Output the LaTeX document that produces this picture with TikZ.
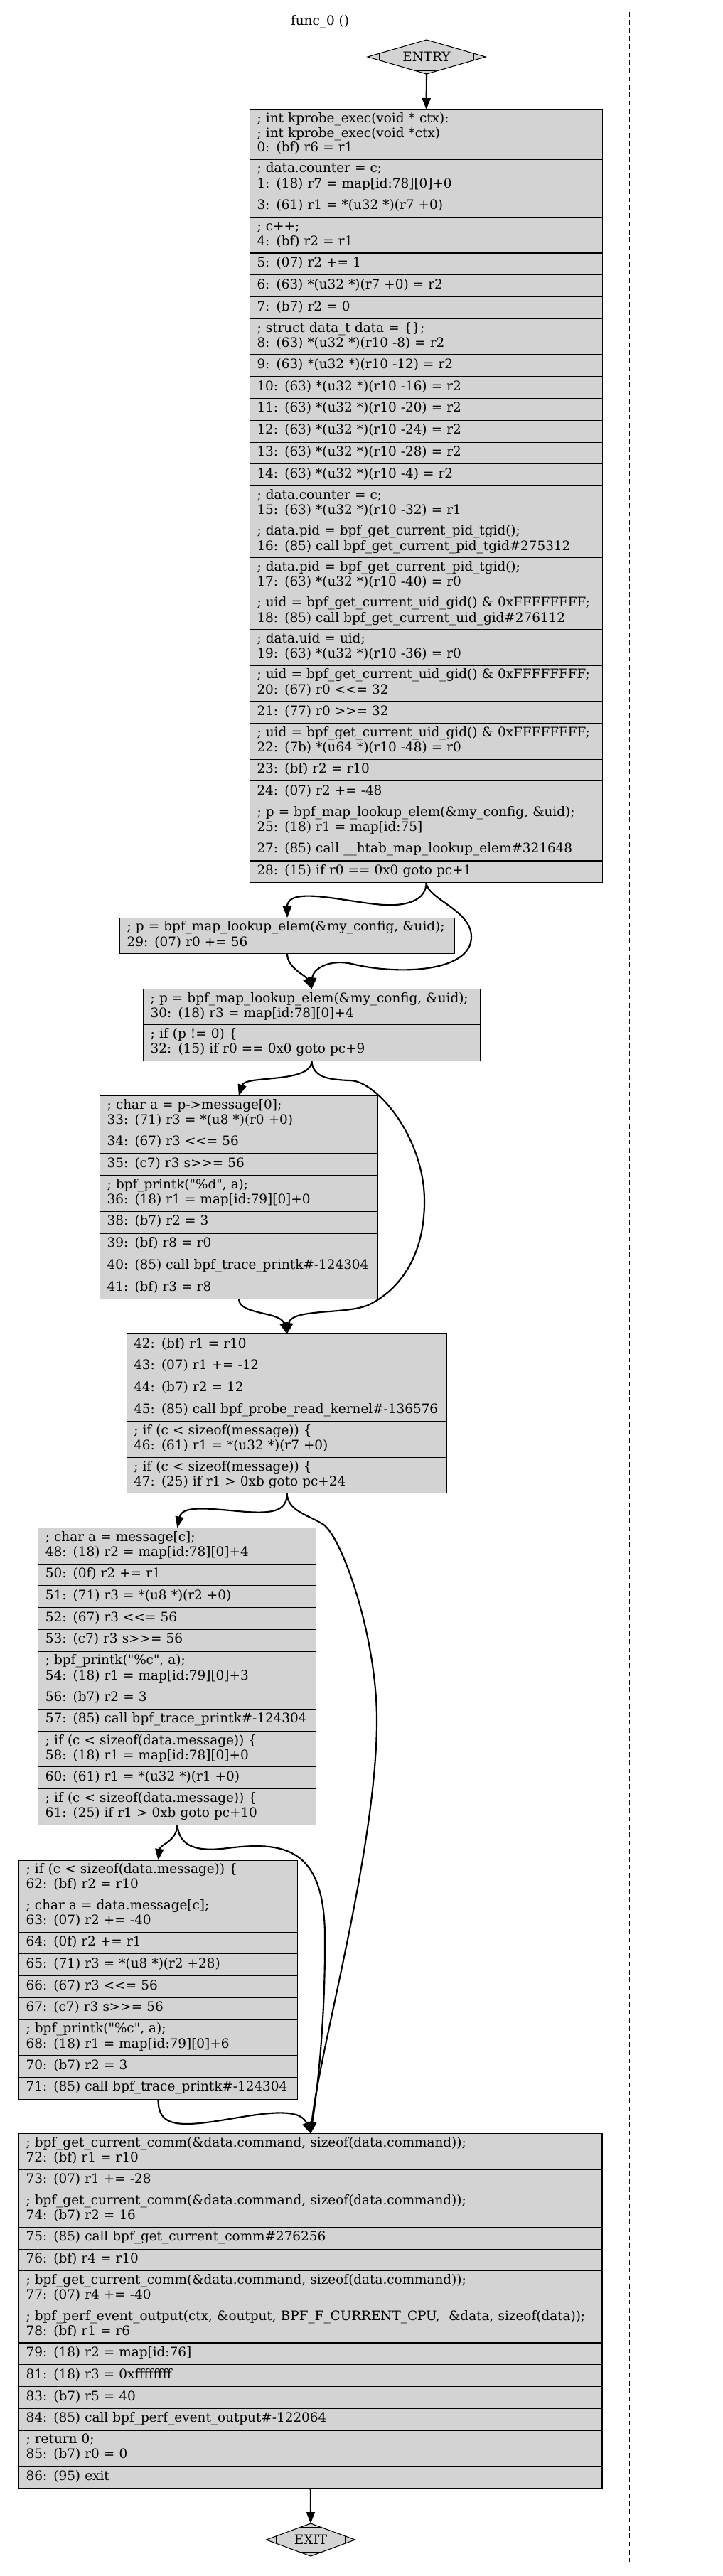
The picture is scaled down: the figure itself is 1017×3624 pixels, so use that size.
\documentclass[tikz,border=0pt]{standalone}
\usepackage{fontspec}
\usepackage{tikz}
\usetikzlibrary{arrows.meta}
\usetikzlibrary{calc}
\usetikzlibrary{positioning}
\usetikzlibrary{shapes.geometric}
\newfontfamily\cfgfam{DejaVu Serif}
\newcommand{\cfgfont}{\cfgfam\fontsize{13.8}{14.775}\selectfont}
\tikzset{fld/.style = {draw, fill=mgray, line width=0.8pt, outer sep=0, inner xsep=7.5pt, inner ysep=0,
                       align=left, font=\cfgfont, minimum height=23.1pt,
                       execute at begin node=\strut, execute at end node=\strut}}
\tikzset{dbl/.style = {minimum height=37.88pt}}
\tikzset{trpl/.style = {minimum height=52.65pt}}
\tikzset{mdia/.style = {diamond, draw, fill=mgray, line width=0.8pt, inner sep=0, outer sep=0, font=\cfgfont}}
\tikzset{flow/.style = {line width=1.6pt, -{Triangle[length=12pt, width=9pt]}}}
\tikzset{cut/.style = {line width=0.8pt}}
\definecolor{mgray}{RGB}{211,211,211}

\begin{document}
\begin{tikzpicture}[x=0.75pt, y=-0.75pt,
    w0/.style = {fld, text width=357.1pt},
    w1/.style = {fld, text width=338.1pt},
    w2/.style = {fld, text width=340.05pt},
    w3/.style = {fld, text width=277.8pt},
    w4/.style = {fld, text width=323pt},
    w5/.style = {fld, text width=278.3pt},
    w6/.style = {fld, text width=278.8pt},
    w7/.style = {fld, text width=600.3pt}]
  \path [use as bounding box, fill=white] (0,0) rectangle (1017,3624);
  \draw [line width=0.75pt, dash pattern=on 5pt off 3.5pt] (15.6,15) rectangle (885,3608);
  \node [font=\cfgfont] (title) at (450,31) {func\_0 ()};

  \node [mdia, aspect=3.46, minimum width=124.5pt, minimum height=36pt] (entry) at (600,80) {ENTRY};
  \node [mdia, aspect=2.72, minimum width=93.75pt, minimum height=34.5pt] (exit) at (437,3573) {EXIT};
  \foreach \d/\f in {entry/0.2, exit/0.23} {
    \draw [cut] ($(\d.north)!\f!(\d.west)$) -- ($(\d.north)!\f!(\d.east)$);
    \draw [cut] ($(\d.south)!\f!(\d.west)$) -- ($(\d.south)!\f!(\d.east)$);
    \draw [cut] ($(\d.west)!\f!(\d.north)$) -- ($(\d.west)!\f!(\d.south)$);
    \draw [cut] ($(\d.east)!\f!(\d.north)$) -- ($(\d.east)!\f!(\d.south)$);
  }

  \node [w0, trpl, anchor=north] (i0) at (599.6,154) {; int kprobe\_exec(void * ctx):\\ ; int kprobe\_exec(void *ctx)\\ 0: (bf) r6 = r1};
  \node [w0, dbl, below=0pt of i0] (i1) {; data.counter = c;\\ 1: (18) r7 = map[id:78][0]+0};
  \node [w0, below=0pt of i1] (i3) {3: (61) r1 = *(u32 *)(r7 +0)};
  \node [w0, dbl, below=0pt of i3] (i4) {; c++;\\ 4: (bf) r2 = r1};
  \node [w0, below=0pt of i4] (i5) {5: (07) r2 += 1};
  \node [w0, below=0pt of i5] (i6) {6: (63) *(u32 *)(r7 +0) = r2};
  \node [w0, below=0pt of i6] (i7) {7: (b7) r2 = 0};
  \node [w0, dbl, below=0pt of i7] (i8) {; struct data\_t data = \{\};\\ 8: (63) *(u32 *)(r10 -8) = r2};
  \node [w0, below=0pt of i8] (i9) {9: (63) *(u32 *)(r10 -12) = r2};
  \node [w0, below=0pt of i9] (i10) {10: (63) *(u32 *)(r10 -16) = r2};
  \node [w0, below=0pt of i10] (i11) {11: (63) *(u32 *)(r10 -20) = r2};
  \node [w0, below=0pt of i11] (i12) {12: (63) *(u32 *)(r10 -24) = r2};
  \node [w0, below=0pt of i12] (i13) {13: (63) *(u32 *)(r10 -28) = r2};
  \node [w0, below=0pt of i13] (i14) {14: (63) *(u32 *)(r10 -4) = r2};
  \node [w0, dbl, below=0pt of i14] (i15) {; data.counter = c;\\ 15: (63) *(u32 *)(r10 -32) = r1};
  \node [w0, dbl, below=0pt of i15] (i16) {; data.pid = bpf\_get\_current\_pid\_tgid();\\ 16: (85) call bpf\_get\_current\_pid\_tgid\#275312};
  \node [w0, dbl, below=0pt of i16] (i17) {; data.pid = bpf\_get\_current\_pid\_tgid();\\ 17: (63) *(u32 *)(r10 -40) = r0};
  \node [w0, dbl, below=0pt of i17] (i18) {; uid = bpf\_get\_current\_uid\_gid() \& 0xFFFFFFFF;\\ 18: (85) call bpf\_get\_current\_uid\_gid\#276112};
  \node [w0, dbl, below=0pt of i18] (i19) {; data.uid = uid;\\ 19: (63) *(u32 *)(r10 -36) = r0};
  \node [w0, dbl, below=0pt of i19] (i20) {; uid = bpf\_get\_current\_uid\_gid() \& 0xFFFFFFFF;\\ 20: (67) r0 <<= 32};
  \node [w0, below=0pt of i20] (i21) {21: (77) r0 >>= 32};
  \node [w0, dbl, below=0pt of i21] (i22) {; uid = bpf\_get\_current\_uid\_gid() \& 0xFFFFFFFF;\\ 22: (7b) *(u64 *)(r10 -48) = r0};
  \node [w0, below=0pt of i22] (i23) {23: (bf) r2 = r10};
  \node [w0, below=0pt of i23] (i24) {24: (07) r2 += -48};
  \node [w0, dbl, below=0pt of i24] (i25) {; p = bpf\_map\_lookup\_elem(\&my\_config, \&uid);\\ 25: (18) r1 = map[id:75]};
  \node [w0, below=0pt of i25] (i27) {27: (85) call \_\_htab\_map\_lookup\_elem\#321648};
  \node [w0, below=0pt of i27] (i28) {28: (15) if r0 == 0x0 goto pc+1};

  \node [w1, dbl, anchor=north] (i29) at (404,1291.2) {; p = bpf\_map\_lookup\_elem(\&my\_config, \&uid);\\ 29: (07) r0 += 56};

  \node [w2, dbl, anchor=north] (i30) at (438.4,1391.4) {; p = bpf\_map\_lookup\_elem(\&my\_config, \&uid);\\ 30: (18) r3 = map[id:78][0]+4};
  \node [w2, dbl, below=0pt of i30] (i32) {; if (p != 0) \{\\ 32: (15) if r0 == 0x0 goto pc+9};

  \node [w3, dbl, anchor=north] (i33) at (335.9,1541.6) {; char a = p->message[0];\\ 33: (71) r3 = *(u8 *)(r0 +0)};
  \node [w3, below=0pt of i33] (i34) {34: (67) r3 <<= 56};
  \node [w3, below=0pt of i34] (i35) {35: (c7) r3 s>>= 56};
  \node [w3, dbl, below=0pt of i35] (i36) {; bpf\_printk("\%d", a);\\ 36: (18) r1 = map[id:79][0]+0};
  \node [w3, below=0pt of i36] (i38) {38: (b7) r2 = 3};
  \node [w3, below=0pt of i38] (i39) {39: (bf) r8 = r0};
  \node [w3, below=0pt of i39] (i40) {40: (85) call bpf\_trace\_printk\#-124304};
  \node [w3, below=0pt of i40] (i41) {41: (bf) r3 = r8};

  \node [w4, anchor=north] (i42) at (403.6,1876.7) {42: (bf) r1 = r10};
  \node [w4, below=0pt of i42] (i43) {43: (07) r1 += -12};
  \node [w4, below=0pt of i43] (i44) {44: (b7) r2 = 12};
  \node [w4, below=0pt of i44] (i45) {45: (85) call bpf\_probe\_read\_kernel\#-136576};
  \node [w4, dbl, below=0pt of i45] (i46) {; if (c < sizeof(message)) \{\\ 46: (61) r1 = *(u32 *)(r7 +0)};
  \node [w4, dbl, below=0pt of i46] (i47) {; if (c < sizeof(message)) \{\\ 47: (25) if r1 > 0xb goto pc+24};

  \node [w5, dbl, anchor=north] (i48) at (249.4,2149.5) {; char a = message[c];\\ 48: (18) r2 = map[id:78][0]+4};
  \node [w5, below=0pt of i48] (i50) {50: (0f) r2 += r1};
  \node [w5, below=0pt of i50] (i51) {51: (71) r3 = *(u8 *)(r2 +0)};
  \node [w5, below=0pt of i51] (i52) {52: (67) r3 <<= 56};
  \node [w5, below=0pt of i52] (i53) {53: (c7) r3 s>>= 56};
  \node [w5, dbl, below=0pt of i53] (i54) {; bpf\_printk("\%c", a);\\ 54: (18) r1 = map[id:79][0]+3};
  \node [w5, below=0pt of i54] (i56) {56: (b7) r2 = 3};
  \node [w5, below=0pt of i56] (i57) {57: (85) call bpf\_trace\_printk\#-124304};
  \node [w5, dbl, below=0pt of i57] (i58) {; if (c < sizeof(data.message)) \{\\ 58: (18) r1 = map[id:78][0]+0};
  \node [w5, below=0pt of i58] (i60) {60: (61) r1 = *(u32 *)(r1 +0)};
  \node [w5, dbl, below=0pt of i60] (i61) {; if (c < sizeof(data.message)) \{\\ 61: (25) if r1 > 0xb goto pc+10};

  \node [w6, dbl, anchor=north] (i62) at (222.5,2617) {; if (c < sizeof(data.message)) \{\\ 62: (bf) r2 = r10};
  \node [w6, dbl, below=0pt of i62] (i63) {; char a = data.message[c];\\ 63: (07) r2 += -40};
  \node [w6, below=0pt of i63] (i64) {64: (0f) r2 += r1};
  \node [w6, below=0pt of i64] (i65) {65: (71) r3 = *(u8 *)(r2 +28)};
  \node [w6, below=0pt of i65] (i66) {66: (67) r3 <<= 56};
  \node [w6, below=0pt of i66] (i67) {67: (c7) r3 s>>= 56};
  \node [w6, dbl, below=0pt of i67] (i68) {; bpf\_printk("\%c", a);\\ 68: (18) r1 = map[id:79][0]+6};
  \node [w6, below=0pt of i68] (i70) {70: (b7) r2 = 3};
  \node [w6, below=0pt of i70] (i71) {71: (85) call bpf\_trace\_printk\#-124304};

  \node [w7, dbl, anchor=north] (i72) at (436.8,3001.5) {; bpf\_get\_current\_comm(\&data.command, sizeof(data.command));\\ 72: (bf) r1 = r10};
  \node [w7, below=0pt of i72] (i73) {73: (07) r1 += -28};
  \node [w7, dbl, below=0pt of i73] (i74) {; bpf\_get\_current\_comm(\&data.command, sizeof(data.command));\\ 74: (b7) r2 = 16};
  \node [w7, below=0pt of i74] (i75) {75: (85) call bpf\_get\_current\_comm\#276256};
  \node [w7, below=0pt of i75] (i76) {76: (bf) r4 = r10};
  \node [w7, dbl, below=0pt of i76] (i77) {; bpf\_get\_current\_comm(\&data.command, sizeof(data.command));\\ 77: (07) r4 += -40};
  \node [w7, dbl, below=0pt of i77] (i78) {; bpf\_perf\_event\_output(ctx, \&output, BPF\_F\_CURRENT\_CPU,\ \ \&data, sizeof(data));\\ 78: (bf) r1 = r6};
  \node [w7, below=0pt of i78] (i79) {79: (18) r2 = map[id:76]};
  \node [w7, below=0pt of i79] (i81) {81: (18) r3 = 0xffffffff};
  \node [w7, below=0pt of i81] (i83) {83: (b7) r5 = 40};
  \node [w7, below=0pt of i83] (i84) {84: (85) call bpf\_perf\_event\_output\#-122064};
  \node [w7, dbl, below=0pt of i84] (i85) {; return 0;\\ 85: (b7) r0 = 0};
  \node [w7, below=0pt of i85] (i86) {86: (95) exit};

  \draw [flow] (entry.south) -- (i0.north);
  \draw [flow] (i28.south) .. controls (599.6,1265) and (575,1275) .. (540,1273) .. controls (490,1270) and (404,1245) .. (i29.north);
  \draw [flow] (i28.south) .. controls (601,1265) and (663,1280) .. (663,1318) .. controls (663,1368) and (560,1372) .. (495,1356) .. controls (465,1349) and (440,1362) .. (i30.north);
  \draw [flow] (i29.south) .. controls (404,1362) and (430,1372) .. (i30.north);
  \draw [flow] (i32.south) .. controls (438.4,1525) and (345,1512) .. (i33.north);
  \draw [flow] (i32.south) .. controls (440,1515) and (460,1519) .. (493,1520) .. controls (530,1521) and (597,1600) .. (597,1690) .. controls (597,1770) and (560,1815) .. (520,1835) .. controls (490,1850) and (410,1840) .. (i42.north);
  \draw [flow] (i41.south) .. controls (336,1850) and (395,1845) .. (i42.north);
  \draw [flow] (i47.south) .. controls (404,2128) and (380,2130) .. (335,2126) .. controls (290,2122) and (256,2118) .. (i48.north);
  \draw [flow] (i47.south) .. controls (405,2125) and (430,2130) .. (454,2144) .. controls (480,2160) and (530,2300) .. (530,2420) .. controls (530,2600) and (450,2880) .. (i72.north);
  \draw [flow] (i61.south) .. controls (249.4,2590) and (225,2595) .. (i62.north);
  \draw [flow] (i61.south) .. controls (252,2600) and (280,2605) .. (320,2600) .. controls (400,2590) and (455,2600) .. (457,2720) .. controls (458,2850) and (445,2950) .. (i72.north);
  \draw [flow] (i71.south) .. controls (222.5,2985) and (240,2992) .. (290,2986) .. controls (340,2980) and (420,2958) .. (i72.north);
  \draw [flow] (i86.south) -- (exit.north);
\end{tikzpicture}
\end{document}
